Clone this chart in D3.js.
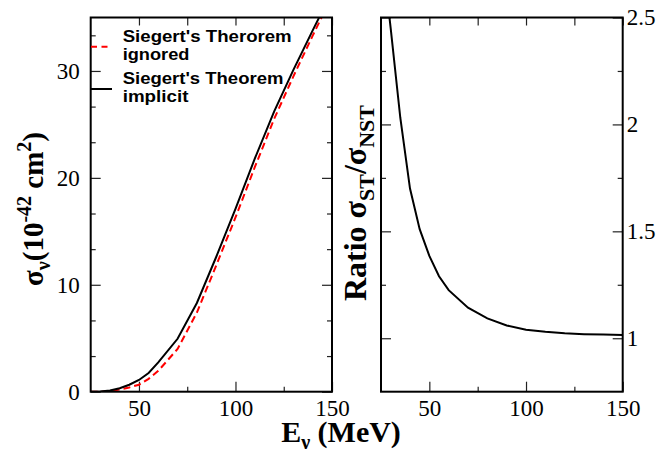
<!DOCTYPE html>
<html>
<head>
<meta charset="utf-8">
<script src="https://cdn.jsdelivr.net/npm/d3@7"></script>
<style>body{margin:0;background:#fff}</style>
</head>
<body>
<script>
// cross sections, 10^-42 cm^2
var energy = [25, 30, 35, 40, 45, 50, 55, 60, 70, 80, 90, 100, 110, 120, 130, 140, 150];
var sigmaST = [0, 0.02, 0.12, 0.33, 0.65, 1.1, 1.75, 2.75, 4.95, 8.3, 12.6, 17.1, 21.8, 26.2, 30.1, 33.8, 37.4];
var sigmaNST = [0, 0, 0.05, 0.2, 0.4, 0.65, 1.2, 1.95, 4.0, 7.4, 11.8, 16.3, 21.0, 25.5, 29.5, 33.3, 37.0];
// ratio ST / NST
var ratioE = [25, 30, 35, 40, 45, 50, 55, 60, 70, 80, 90, 100, 110, 120, 130, 140, 150];
var ratio = [2.85, 2.45, 2.03, 1.70, 1.51, 1.385, 1.29, 1.225, 1.143, 1.093, 1.06, 1.04, 1.03, 1.023, 1.019, 1.017, 1.015];

var xMajor = [50, 100, 150], xMinor = [75, 125];
var sigMajor = [0, 10, 20, 30], sigMinor = [10/3, 20/3, 40/3, 50/3, 70/3, 80/3, 100/3];
var ratMajor = [1, 1.5, 2, 2.5], ratMinor = [1.25, 1.75, 2.25];
var legendLabels = [["Siegert's Therorem", "ignored"], ["Siegert's Theorem", "implicit"]];

var width = 659, height = 452;
var plotTop = 17.5, plotBottom = 391.7;

var svg = d3.select('body').append('svg')
    .attr('width', width)
    .attr('height', height);

// strip the domain line and set tick look
function tidy(s, withText) {
    s.select('.domain').remove();
    s.attr('color', '#222');
    s.selectAll('line').attr('stroke-width', 1.2);
    if (withText) {
        s.selectAll('text')
            .attr('font-family', 'Liberation Serif, Times New Roman, serif')
            .attr('font-size', 23)
            .attr('fill', '#000');
    }
}

function xFrame(x) {
    var g = svg.append('g');
    g.append('g').attr('transform', 'translate(0,' + plotBottom + ')')
        .call(d3.axisBottom(x).tickValues(xMajor).tickSize(-10).tickPadding(8).tickFormat(d3.format('d')))
        .call(tidy, true);
    g.append('g').attr('transform', 'translate(0,' + plotBottom + ')')
        .call(d3.axisBottom(x).tickValues(xMinor).tickSize(-5).tickFormat(''))
        .call(tidy);
    g.append('g').attr('transform', 'translate(0,' + plotTop + ')')
        .call(d3.axisTop(x).tickValues(xMajor.concat(xMinor)).tickSize(-8).tickFormat(''))
        .call(tidy);
    return g;
}

// ---------- left panel ----------
var xL = d3.scaleLinear().domain([25, 150]).range([90.7, 332]);
var yL = d3.scaleLinear().domain([0, 35]).range([plotBottom, plotTop]);
var gL = xFrame(xL);

gL.append('g').attr('transform', 'translate(' + xL.range()[0] + ',0)')
    .call(d3.axisLeft(yL).tickValues(sigMajor).tickSize(-10).tickPadding(11).tickFormat(d3.format('d')))
    .call(tidy, true);
gL.append('g').attr('transform', 'translate(' + xL.range()[0] + ',0)')
    .call(d3.axisLeft(yL).tickValues(sigMinor).tickSize(-5).tickFormat(''))
    .call(tidy);
gL.append('g').attr('transform', 'translate(' + xL.range()[1] + ',0)')
    .call(d3.axisRight(yL).tickValues(sigMajor).tickSize(-10).tickFormat(''))
    .call(tidy);
gL.append('g').attr('transform', 'translate(' + xL.range()[1] + ',0)')
    .call(d3.axisRight(yL).tickValues(sigMinor).tickSize(-5).tickFormat(''))
    .call(tidy);

svg.append('clipPath').attr('id', 'clipL').append('rect')
    .attr('x', xL.range()[0]).attr('y', plotTop)
    .attr('width', xL.range()[1] - xL.range()[0]).attr('height', plotBottom - plotTop);

var lineL = d3.line().x(function (d) { return xL(d[0]); }).y(function (d) { return yL(d[1]); });

gL.append('path')
    .datum(energy.map(function (e, i) { return [e, sigmaNST[i]]; }))
    .attr('clip-path', 'url(#clipL)')
    .attr('fill', 'none').attr('stroke', '#f00').attr('stroke-width', 2)
    .attr('stroke-dasharray', '7,4')
    .attr('d', lineL);
gL.append('path')
    .datum(energy.map(function (e, i) { return [e, sigmaST[i]]; }))
    .attr('clip-path', 'url(#clipL)')
    .attr('fill', 'none').attr('stroke', '#000').attr('stroke-width', 2)
    .attr('d', lineL);

gL.append('rect')
    .attr('x', xL.range()[0]).attr('y', plotTop)
    .attr('width', xL.range()[1] - xL.range()[0]).attr('height', plotBottom - plotTop)
    .attr('fill', 'none').attr('stroke', '#000').attr('stroke-width', 2);

// legend
var leg = gL.append('g').attr('font-family', 'Liberation Sans, Arial, sans-serif')
    .attr('font-weight', 'bold').attr('font-size', 16.5);
var legY = [46.7, 89];
var legLen = [[169, 66.7], [160.7, 65.7]];
legendLabels.forEach(function (lab, i) {
    leg.append('line')
        .attr('x1', 91).attr('x2', 112).attr('y1', legY[i]).attr('y2', legY[i])
        .attr('stroke', i === 0 ? '#f00' : '#000').attr('stroke-width', 2)
        .attr('stroke-dasharray', i === 0 ? '6,4.5' : null);
    leg.append('text').attr('x', 122.7).attr('y', legY[i] - 4.8)
        .attr('textLength', legLen[i][0]).attr('lengthAdjust', 'spacingAndGlyphs').text(lab[0]);
    leg.append('text').attr('x', 122.7).attr('y', legY[i] + 13.2)
        .attr('textLength', legLen[i][1]).attr('lengthAdjust', 'spacingAndGlyphs').text(lab[1]);
});

// ---------- right panel ----------
var xR = d3.scaleLinear().domain([25, 150]).range([381, 622.7]);
var yR = d3.scaleLinear().domain([0.75, 2.5]).range([plotBottom, plotTop]);
var gR = xFrame(xR);

gR.append('g').attr('transform', 'translate(' + xR.range()[0] + ',0)')
    .call(d3.axisLeft(yR).tickValues(ratMajor).tickSize(-10).tickFormat(''))
    .call(tidy);
gR.append('g').attr('transform', 'translate(' + xR.range()[0] + ',0)')
    .call(d3.axisLeft(yR).tickValues(ratMinor).tickSize(-5).tickFormat(''))
    .call(tidy);
gR.append('g').attr('transform', 'translate(' + xR.range()[1] + ',0)')
    .call(d3.axisRight(yR).tickValues(ratMajor).tickSize(-10).tickPadding(4).tickFormat(function (d) { return String(d); }))
    .call(tidy, true);
gR.append('g').attr('transform', 'translate(' + xR.range()[1] + ',0)')
    .call(d3.axisRight(yR).tickValues(ratMinor).tickSize(-5).tickFormat(''))
    .call(tidy);

svg.append('clipPath').attr('id', 'clipR').append('rect')
    .attr('x', xR.range()[0]).attr('y', plotTop)
    .attr('width', xR.range()[1] - xR.range()[0]).attr('height', plotBottom - plotTop);

var lineR = d3.line().x(function (d) { return xR(d[0]); }).y(function (d) { return yR(d[1]); });
gR.append('path')
    .datum(ratioE.map(function (e, i) { return [e, ratio[i]]; }))
    .attr('clip-path', 'url(#clipR)')
    .attr('fill', 'none').attr('stroke', '#000').attr('stroke-width', 2)
    .attr('d', lineR);

gR.append('rect')
    .attr('x', xR.range()[0]).attr('y', plotTop)
    .attr('width', xR.range()[1] - xR.range()[0]).attr('height', plotBottom - plotTop)
    .attr('fill', 'none').attr('stroke', '#000').attr('stroke-width', 2);

// ---------- axis titles ----------
var serifB = 'Liberation Serif, Times New Roman, serif';

var xt = svg.append('text').attr('x', 341).attr('y', 441.5)
    .attr('text-anchor', 'middle').attr('font-family', serifB)
    .attr('font-weight', 'bold').attr('font-size', 30);
xt.append('tspan').text('E');
xt.append('tspan').attr('font-size', 20).attr('dy', 7).text('ν');
xt.append('tspan').attr('dy', -7).text(' (MeV)');

var yt = svg.append('text').attr('transform', 'translate(43,209) rotate(-90)')
    .attr('text-anchor', 'middle').attr('font-family', serifB)
    .attr('font-weight', 'bold').attr('font-size', 29);
yt.append('tspan').text('σ');
yt.append('tspan').attr('font-size', 20).attr('dy', 7).text('ν');
yt.append('tspan').attr('dy', -7).text('(10');
yt.append('tspan').attr('font-size', 20).attr('dy', -12).text('-42');
yt.append('tspan').attr('dy', 12).text(' cm');
yt.append('tspan').attr('font-size', 20).attr('dy', -12).text('2');
yt.append('tspan').attr('dy', 12).text(')');

var rt = svg.append('text').attr('transform', 'translate(366,203) rotate(-90)')
    .attr('text-anchor', 'middle').attr('font-family', serifB)
    .attr('font-weight', 'bold').attr('font-size', 32);
rt.append('tspan').text('Ratio σ');
rt.append('tspan').attr('font-size', 22).attr('dy', 8).text('ST');
rt.append('tspan').attr('dy', -8).text('/σ');
rt.append('tspan').attr('font-size', 22).attr('dy', 8).text('NST');
</script>
</body>
</html>
